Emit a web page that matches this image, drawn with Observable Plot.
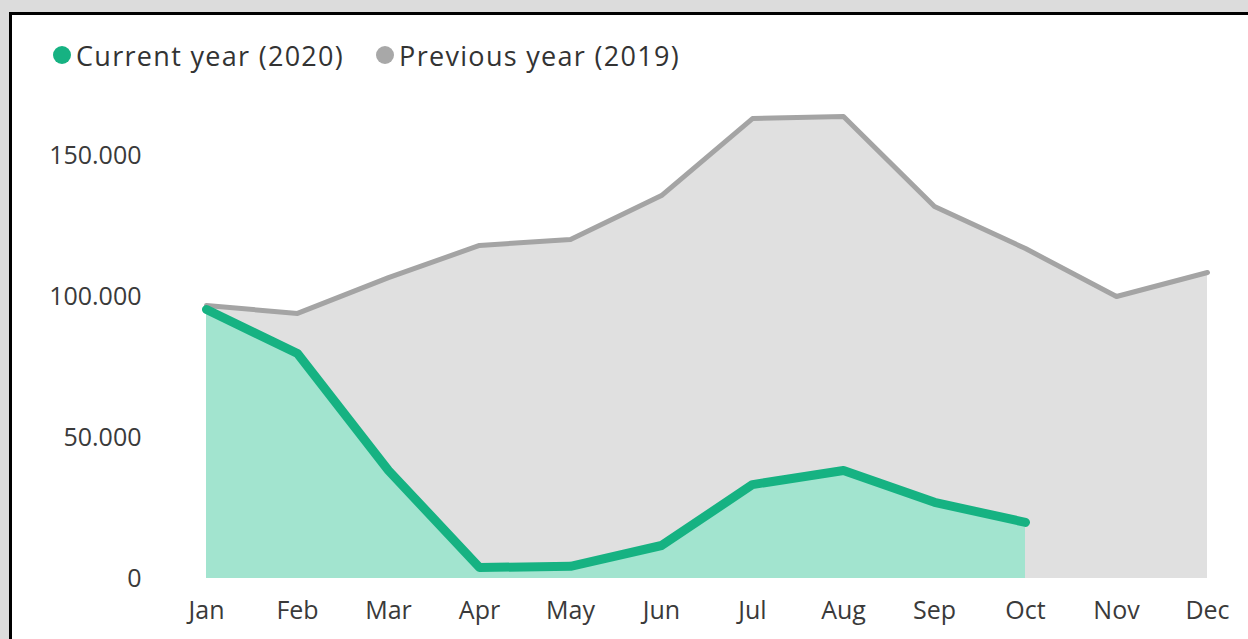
<!DOCTYPE html>
<html>
<head>
<meta charset="utf-8">
<script src="https://cdn.jsdelivr.net/npm/d3@7"></script>
<script src="https://cdn.jsdelivr.net/npm/@observablehq/plot@0.6"></script>
<style>
  html, body { margin: 0; padding: 0; background: #dcdcdc; width: 1248px; height: 639px; overflow: hidden; }
  #panel { position: absolute; left: 9px; top: 12px; width: 1260px; height: 660px; background: #fff; border-left: 3px solid #000; border-top: 3px solid #000; }
  #legend { position: absolute; left: 41px; top: 21px; height: 38px; font-family: "Open Sans", sans-serif; font-size: 27px; letter-spacing: 1.3px; color: #333; display: flex; align-items: center; white-space: nowrap; }
  .sw { display: inline-block; width: 18px; height: 18px; border-radius: 50%; margin-right: 5px; }
  .item { display: flex; align-items: center; margin-right: 32px; }
  #chart { position: absolute; left: 0; top: 0; }
</style>
</head>
<body>
<div id="panel">
  <div id="chart"></div>
  <div id="legend"></div>
</div>
<script>
const months = ["Jan","Feb","Mar","Apr","May","Jun","Jul","Aug","Sep","Oct","Nov","Dec"];
const previousYear2019 = [96800, 94000, 106700, 118100, 120200, 135800, 163100, 163800, 131900, 117000, 100000, 108500];
const currentYear2020 = [95400, 79800, 38300, 3900, 4300, 11700, 33300, 38300, 27000, 19900];
const seriesNames = ["Current year (2020)", "Previous year (2019)"];
const yTicks = [0, 50000, 100000, 150000];

const lineGreen = "#16b282", fillGreen = "#a2e4cf";
const lineGray = "#a4a4a4", fillGray = "#e0e0e0";

const prev = months.map((m, i) => ({month: m, value: previousYear2019[i]}));
const curr = currentYear2020.map((v, i) => ({month: months[i], value: v}));

const locale = d3.formatLocale({decimal: ",", thousands: ".", grouping: [3], currency: ["", ""]});
const fmt = locale.format(",");

const legend = document.getElementById("legend");
[[seriesNames[0], lineGreen], [seriesNames[1], "#a8a8a8"]].forEach(([name, c]) => {
  const it = document.createElement("div");
  it.className = "item";
  it.innerHTML = `<span class="sw" style="background:${c}"></span><span>${name}</span>`;
  legend.appendChild(it);
});

const chart = Plot.plot({
  width: 1236,
  height: 624,
  marginLeft: 193,
  marginRight: 40,
  marginTop: 83.6,
  marginBottom: 61,
  style: {fontFamily: "'Open Sans', sans-serif", fontSize: "25px", color: "#3a3a3a", background: "transparent"},
  x: {type: "point", domain: months, padding: 0, label: null},
  y: {domain: [0, 170000], label: null},
  marks: [
    Plot.areaY(prev, {x: "month", y: "value", fill: fillGray}),
    Plot.areaY(curr, {x: "month", y: "value", fill: fillGreen}),
    Plot.lineY(prev, {x: "month", y: "value", stroke: lineGray, strokeWidth: 5}),
    Plot.lineY(curr, {x: "month", y: "value", stroke: lineGreen, strokeWidth: 9}),
    Plot.axisX({tickSize: 0, tickPadding: 23, fontSize: 25, label: null}),
    Plot.axisY({ticks: yTicks, tickSize: 0, tickPadding: 64, tickFormat: fmt, label: null})
  ]
});
document.getElementById("chart").appendChild(chart);
</script>
</body>
</html>
